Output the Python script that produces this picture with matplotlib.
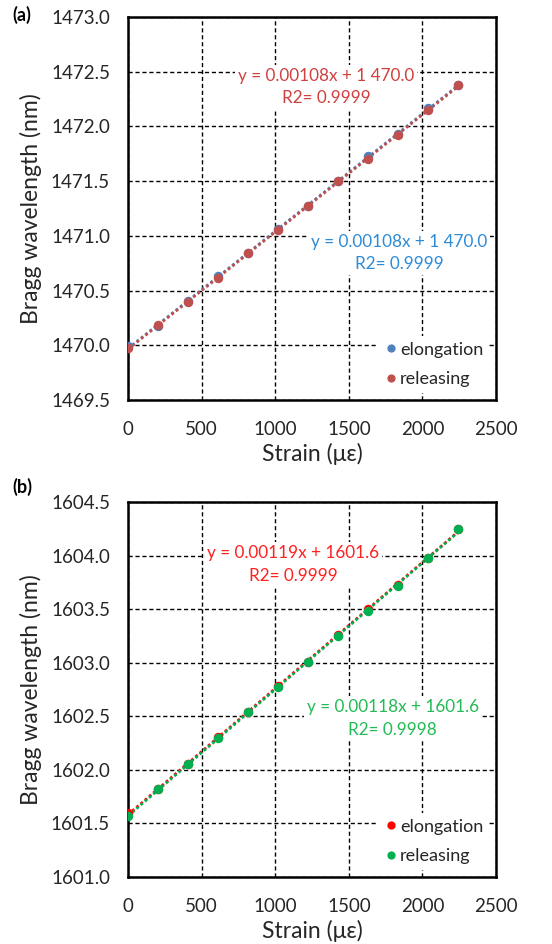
import matplotlib
matplotlib.use("Agg")
import matplotlib.pyplot as plt
import numpy as np

plt.rcParams['font.family'] = ['Lato', 'DejaVu Sans']

strain = [0, 204, 408, 612, 816, 1020, 1224, 1428, 1632, 1836, 2040, 2244]

a_elong = [1469.99, 1470.18, 1470.40, 1470.63, 1470.84, 1471.065, 1471.27, 1471.50, 1471.73, 1471.93, 1472.165, 1472.38]
a_release = [1469.975, 1470.185, 1470.395, 1470.615, 1470.84, 1471.05, 1471.27, 1471.50, 1471.705, 1471.925, 1472.15, 1472.38]

b_elong = [1601.60, 1601.82, 1602.05, 1602.31, 1602.54, 1602.78, 1603.01, 1603.26, 1603.505, 1603.73, 1603.98, 1604.25]
b_release = [1601.57, 1601.82, 1602.053, 1602.296, 1602.54, 1602.77, 1603.007, 1603.25, 1603.484, 1603.72, 1603.98, 1604.25]

a_eq_elong = "y = 0.00108x + 1 470.0\nR2= 0.9999"
a_eq_release = "y = 0.00108x + 1 470.0\nR2= 0.9999"
b_eq_elong = "y = 0.00119x + 1601.6\nR2= 0.9999"
b_eq_release = "y = 0.00118x + 1601.6\nR2= 0.9998"

x_ticks = [0, 500, 1000, 1500, 2000, 2500]
a_yticks = [1469.5, 1470.0, 1470.5, 1471.0, 1471.5, 1472.0, 1472.5, 1473.0]
b_yticks = [1601.0, 1601.5, 1602.0, 1602.5, 1603.0, 1603.5, 1604.0, 1604.5]

fig = plt.figure(figsize=(5.52, 9.44), dpi=100)
axa = fig.add_axes([0.2319, 0.5763, 0.6667, 0.4057])
axb = fig.add_axes([0.2319, 0.0710, 0.6667, 0.3972])

TXT = '#262626'


def panel(ax, ys1, ys2, c1, c2, tc1, tc2, eq1, eq2, pos1, pos2, yticks):
    x = np.array(strain, dtype=float)
    ax.set_xlim(0, 2500)
    ax.set_ylim(yticks[0], yticks[-1])
    ax.set_xticks(x_ticks)
    ax.set_yticks(yticks)
    ax.set_yticklabels([f"{v:.1f}" for v in yticks])
    ax.grid(True, color='black', linestyle=(0, (3, 2)), linewidth=1.0, zorder=0)
    ax.set_axisbelow(True)
    for s in ax.spines.values():
        s.set_linewidth(1.8)
        s.set_color('black')
    ax.tick_params(length=0, labelsize=13.5, labelcolor=TXT)
    ax.tick_params(axis='y', pad=13)
    ax.tick_params(axis='x', pad=15)
    # trendlines
    for ys, c in ((ys1, c1), (ys2, c2)):
        p = np.polyfit(x, ys, 1)
        xx = np.array([x.min(), x.max()])
        ax.plot(xx, np.polyval(p, xx), linestyle=(0, (1, 1)), color=c, lw=2.0, zorder=3)
    ax.plot(x, ys1, 'o', color=c1, ms=5.8, label='elongation', zorder=4)
    ax.plot(x, ys2, 'o', color=c2, ms=5.8, label='releasing', zorder=5)
    bb = dict(facecolor='white', edgecolor='none', pad=2)
    ax.text(pos1[0], pos1[1], eq1, color=tc1, fontsize=12.3, ha='center', va='center',
            linespacing=1.5, bbox=bb, zorder=2)
    ax.text(pos2[0], pos2[1], eq2, color=tc2, fontsize=12.3, ha='center', va='center',
            linespacing=1.5, bbox=bb, zorder=2)
    leg = ax.legend(loc='lower right', frameon=True, fontsize=13, handletextpad=0.1,
                    handlelength=0.8, markerscale=0.85, borderaxespad=0.4, labelspacing=0.75,
                    borderpad=0.3)
    leg.get_frame().set_facecolor('white')
    leg.get_frame().set_edgecolor('none')
    leg.get_frame().set_alpha(1)
    for t in leg.get_texts():
        t.set_color(TXT)
    ax.set_xlabel("Strain (με)", fontsize=16.5, color=TXT, labelpad=4)
    ax.set_ylabel("Bragg wavelength (nm)", fontsize=16.5, color=TXT, labelpad=6)


panel(axa, a_elong, a_release, '#4F81BD', '#C0504D', '#2E8BD6', '#D0403F',
      a_eq_elong, a_eq_release, (1841, 1470.845), (1345, 1472.36), a_yticks)
panel(axb, b_elong, b_release, '#FF0000', '#00B050', '#FF2020', '#22BB55',
      b_eq_elong, b_eq_release, (1124, 1603.918), (1798, 1602.48), b_yticks)

fig.text(0.022, 0.984, "(a)", fontsize=13, fontweight='bold', color='black', va='center', ha='left')
fig.text(0.022, 0.484, "(b)", fontsize=13, fontweight='bold', color='black', va='center', ha='left')

fig.savefig("out.png", dpi=100, facecolor='white')
